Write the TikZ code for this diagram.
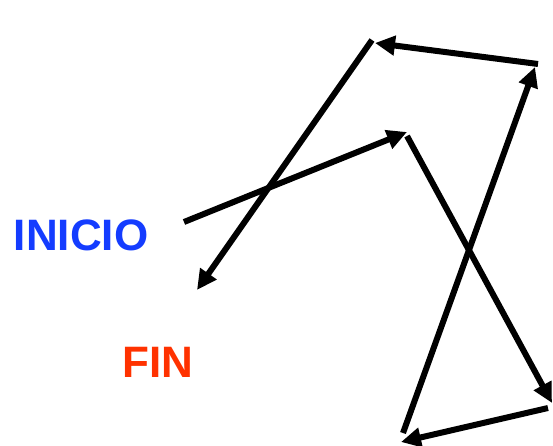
\documentclass[tikz,border=0pt]{standalone}
\usepackage{fontspec}
\setmainfont{Liberation Sans}
\usetikzlibrary{arrows.meta}
\definecolor{inblue}{RGB}{20,60,255}
\definecolor{finred}{RGB}{255,50,0}
\tikzset{
  arr/.style={line width=6pt, -{Triangle[length=20pt,width=19pt]}},
  lbl/.style={font=\bfseries\fontsize{44}{44}\selectfont, inner sep=0pt, anchor=base}
}
\begin{document}
\begin{tikzpicture}[x=1pt,y=-1pt]
\useasboundingbox (0,0) rectangle (553,446);
\node[lbl, text=inblue] (inicio) at (81,250) {INICIO};
\node[lbl, text=finred] (fin) at (158,377) {FIN};
\coordinate (a1) at (184,222);
\coordinate (a2) at (407,132);
\coordinate (b1) at (407,136);
\coordinate (b2) at (552,403);
\coordinate (c1) at (548,408);
\coordinate (c2) at (401,442);
\coordinate (d1) at (403,433);
\coordinate (d2) at (535,67);
\coordinate (e1) at (538,64);
\coordinate (e2) at (375,43);
\coordinate (f1) at (372,40);
\coordinate (f2) at (197,290);
\draw[arr] (a1) -- (a2);
\draw[arr] (b1) -- (b2);
\draw[arr] (c1) -- (c2);
\draw[arr] (d1) -- (d2);
\draw[arr] (e1) -- (e2);
\draw[arr] (f1) -- (f2);
\end{tikzpicture}
\end{document}
